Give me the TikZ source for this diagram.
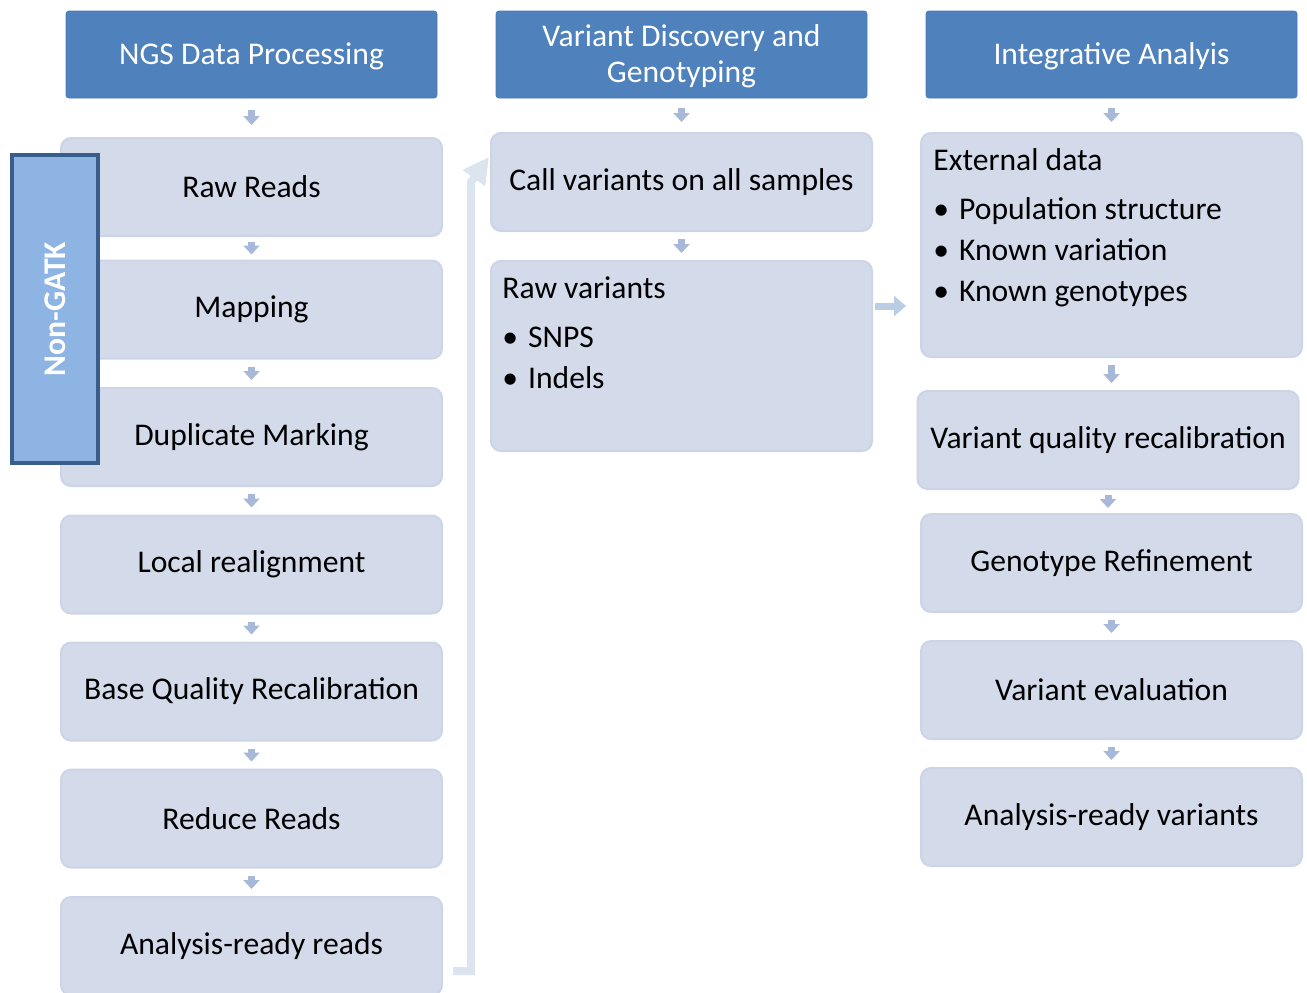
\documentclass[tikz,border=0pt]{standalone}
\usepackage{fontspec}
\setmainfont{Carlito}
\usetikzlibrary{arrows.meta,calc}

\definecolor{hdrblue}{HTML}{4F81BD}
\definecolor{hdrline}{HTML}{4A7AB5}
\definecolor{stepfill}{HTML}{D3DAEA}
\definecolor{stepline}{HTML}{CCD4E7}
\definecolor{gatkfill}{HTML}{8EB4E3}
\definecolor{gatkline}{HTML}{3A5E8C}
\definecolor{arrowc}{HTML}{A7B8D8}
\definecolor{loopc}{HTML}{DCE4F0}
\definecolor{sidec}{HTML}{B9CDE5}

\newcommand{\bas}[1]{\raisebox{-1pt}[\height][\depth]{#1}}

\begin{document}
\begin{tikzpicture}[
  x=0.5pt,y=-0.5pt,
  font=\fontsize{15.8}{19}\selectfont,
  titre/.style={fill=hdrblue,draw=hdrline,rounded corners=1.5pt,text=white,
    minimum width=185.5pt,minimum height=43.5pt,align=center,inner sep=0pt},
  etape/.style={fill=stepfill,draw=stepline,line width=1pt,rounded corners=5pt,
    minimum width=190.5pt,minimum height=49pt,inner sep=0pt},
  liste/.style={anchor=north west,align=left,inner sep=0pt,
    font=\fontsize{15.8}{20.5}\selectfont},
  fl/.style={-{Triangle[width=8pt,length=4.5pt]},line width=3.5pt,draw=arrowc,
    shorten <=#1,shorten >=#1},
  fl/.default=3.5pt,
  retour/.style={-{Triangle[width=13pt,length=13pt]},line width=4pt,draw=loopc},
  lateral/.style={-{Triangle[width=10pt,length=6pt]},line width=3.5pt,draw=sidec},
]
  \useasboundingbox (0,0) rectangle (1307,992);

  % En-tetes
  \node[titre] (h1) at (251.5,54.5) {\bas{NGS Data Processing}};
  \node[titre] (h2) at (681.5,54.5) {\bas{Variant Discovery and}\\[-1pt]\bas{Genotyping}};
  \node[titre] (h3) at (1111.5,54.5) {\bas{Integrative Analyis}};

  % Colonne 1
  \node[etape] (raw)     at (251.5,187)   {Raw Reads};
  \node[etape] (map)     at (251.5,309.5) {Mapping};
  \node[etape] (dup)     at (251.5,437)   {Duplicate Marking};
  \node[etape] (realign) at (251.5,564.5) {Local realignment};
  \node[etape] (bqsr)    at (251.5,691.5) {Base Quality Recalibration};
  \node[etape] (reduce)  at (251.5,818.5) {Reduce Reads};
  \node[etape] (arreads) at (251.5,946)   {Analysis-ready reads};

  % Colonne 2
  \node[etape] (call)   at (681.5,182) {Call variants on all samples};
  \node[etape,minimum height=95pt] (rawvar) at (681.5,356) {};
  \node[liste] (rawvartxt) at ($(rawvar.north west)+(12,16)$)
    {Raw variants\\[4pt]\textbullet\hspace{5pt}SNPS\\\textbullet\hspace{5pt}Indels};

  % Colonne 3
  \node[etape,minimum height=112pt] (ext) at (1111.5,245) {};
  \node[liste] (exttxt) at ($(ext.north west)+(13,16)$)
    {External data\\[4pt]\textbullet\hspace{5pt}Population structure\\
     \textbullet\hspace{5pt}Known variation\\\textbullet\hspace{5pt}Known genotypes};
  \node[etape] (vqr)    at (1108,440)   {Variant quality recalibration};
  \node[etape] (refine) at (1111.5,563) {Genotype Refinement};
  \node[etape] (eval)   at (1111.5,690) {Variant evaluation};
  \node[etape] (arvar)  at (1111.5,817) {Analysis-ready variants};

  % Non-GATK
  \node[fill=gatkfill,draw=gatkline,line width=2pt,rotate=90,text=white,
    font=\fontsize{15.8}{19}\bfseries,minimum width=154pt,minimum height=43pt,
    inner sep=0pt] (nongatk) at (55,309) {Non-GATK};

  % Fleches
  \draw[fl=6pt] (h1) -- (raw);
  \draw[fl=2.5pt] (raw) -- (map);
  \draw[fl] (map) -- (dup);
  \draw[fl] (dup) -- (realign);
  \draw[fl] (realign) -- (bqsr);
  \draw[fl] (bqsr) -- (reduce);
  \draw[fl] (reduce) -- (arreads);

  \draw[fl=5pt] (h2) -- (call);
  \draw[fl] (call) -- (rawvar);

  \draw[fl=5pt] (h3) -- (ext);
  \draw[fl=3.5pt] (ext.south) -- (ext.south |- vqr.north);
  \draw[fl=2.5pt] (vqr.south) -- (vqr.south |- refine.north);
  \draw[fl] (refine) -- (eval);
  \draw[fl] (eval) -- (arvar);

  % Retour vers la colonne 2
  \coordinate (loopstart) at ($(arreads.east)+(10,25)$);
  \coordinate (loopup) at (471,182);
  \draw[retour] (loopstart) -| (loopup) -- ($(call.west)+(-1,-25)$);

  \draw[lateral] ($(rawvar.north east)+(2,46)$) -- ($(ext.north west)+(-14,174)$);
\end{tikzpicture}
\end{document}
